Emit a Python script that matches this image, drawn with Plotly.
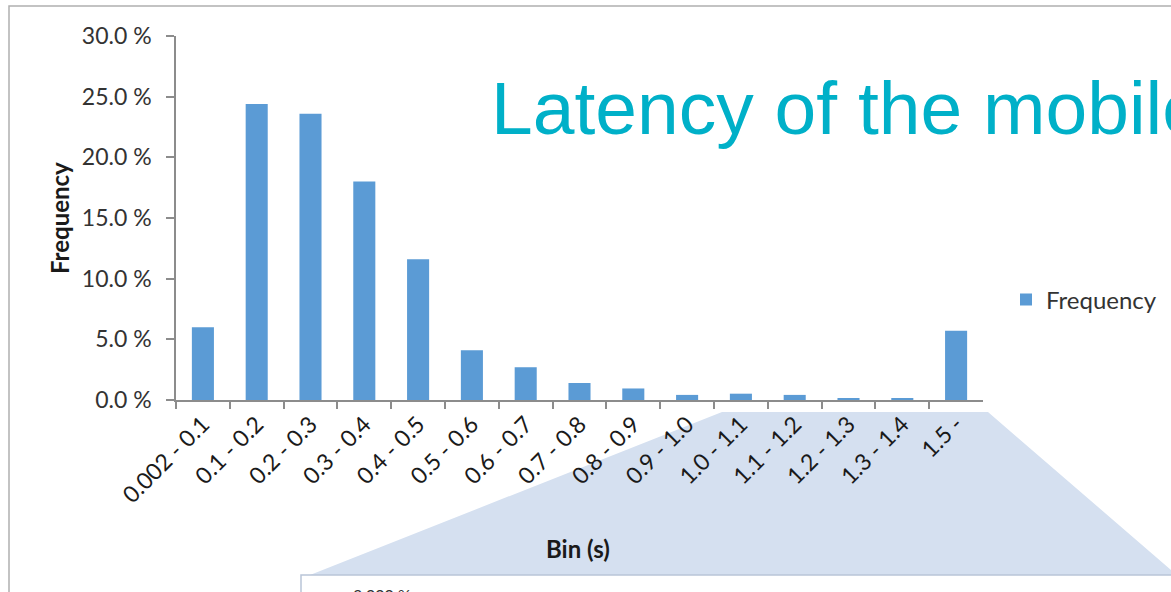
import plotly.graph_objects as go

W, H = 1171, 592
OFF = 0  # page body margin removed via post_script

bins = ["0.002 - 0.1", "0.1 - 0.2", "0.2 - 0.3", "0.3 - 0.4", "0.4 - 0.5",
        "0.5 - 0.6", "0.6 - 0.7", "0.7 - 0.8", "0.8 - 0.9", "0.9 - 1.0",
        "1.0 - 1.1", "1.1 - 1.2", "1.2 - 1.3", "1.3 - 1.4", "1.5 -"]
frequency = [6.0, 24.4, 23.6, 18.0, 11.6, 4.1, 2.7, 1.4, 0.95, 0.42,
             0.52, 0.42, 0.1, 0.1, 5.7]
y_ticks = [0, 5, 10, 15, 20, 25, 30]
y_tick_labels = ["0.0 %", "5.0 %", "10.0 %", "15.0 %", "20.0 %", "25.0 %", "30.0 %"]

def px(x):
    return (x - OFF) / W

def py(y):
    return 1 - (y - OFF) / H

FONT = "Lato"
GRAY = "#8c8c8c"

fig = go.Figure()
fig.add_trace(go.Bar(
    x=bins, y=frequency, name="Frequency",
    marker=dict(color="#5B9BD5", line=dict(width=0)),
    showlegend=True,
))

shapes = [
    # outer slide border
    dict(type="path", xref="paper", yref="paper",
         path=f"M {px(9)},{py(620)} L {px(9)},{py(6)} L {px(1200)},{py(6)}",
         line=dict(color="#b0b0b0", width=1.5), layer="below"),
    # zoom callout trapezoid
    dict(type="path", xref="paper", yref="paper",
         path=(f"M {px(722)},{py(412)} L {px(988)},{py(412)} L {px(1171)},{py(570)} "
               f"L {px(1180)},{py(570)} L {px(1180)},{py(575)} L {px(310)},{py(575)} Z"),
         fillcolor="#D5E0F0", line=dict(width=0), layer="below"),
    # lower chart frame
    dict(type="path", xref="paper", yref="paper",
         path=f"M {px(301)},{py(620)} L {px(301)},{py(575)} L {px(1200)},{py(575)}",
         line=dict(color="#b9c5d8", width=1.5), layer="below"),
]

annotations = [
    dict(text="Latency of the mobile", xref="paper", yref="paper",
         x=px(488.5), y=py(108), xanchor="left", yanchor="middle", showarrow=False,
         font=dict(family="Liberation Sans", size=75, color="#00B0C8")),
    dict(text="<b>Frequency</b>", xref="paper", yref="paper",
         x=px(60), y=py(218), xanchor="center", yanchor="middle", showarrow=False,
         textangle=-90, font=dict(family=FONT, size=24, color="#1a1a1a")),
    dict(text="<b>Bin (s)</b>", xref="paper", yref="paper",
         x=px(578), y=py(548), xanchor="center", yanchor="middle", showarrow=False,
         font=dict(family=FONT, size=24, color="#1a1a1a")),
    dict(text="3.000 %", xref="paper", yref="paper",
         x=px(382), y=py(594), xanchor="center", yanchor="middle", showarrow=False,
         font=dict(family=FONT, size=16, color="#333333")),
]

fig.update_layout(
    width=W, height=H,
    margin=dict(l=0, r=0, t=0, b=0, autoexpand=False),
    paper_bgcolor="white", plot_bgcolor="rgba(0,0,0,0)",
    bargap=0.59,
    font=dict(family=FONT, color="#333333"),
    shapes=shapes,
    annotations=annotations,
    legend=dict(x=px(1006), y=py(300), xanchor="left", yanchor="middle",
                font=dict(family=FONT, size=24, color="#333333"),
                bgcolor="rgba(0,0,0,0)", itemwidth=30),
    xaxis=dict(domain=[px(176), px(983)], type="category",
               showline=True, linecolor=GRAY, linewidth=1.5,
               ticks="outside", ticklen=7, tickcolor=GRAY, tickwidth=1.5,
               tickson="boundaries", tickangle=-45,
               tickfont=dict(family=FONT, size=23, color="#1a1a1a"),
               showgrid=False, zeroline=False, fixedrange=True, automargin=False),
    yaxis=dict(domain=[py(400), py(36)], range=[0, 30],
               tickmode="array", tickvals=y_ticks, ticktext=y_tick_labels,
               showline=True, linecolor=GRAY, linewidth=1.5,
               ticks="outside", ticklen=8, tickcolor=GRAY, tickwidth=1.5,
               ticklabelstandoff=10,
               tickfont=dict(family=FONT, size=23, color="#333333"),
               showgrid=False, zeroline=False, fixedrange=True, automargin=False),
)

fig.write_html(
    "out.html",
    config={"displayModeBar": False},
    post_script="document.body.style.margin='0';document.body.style.overflow='hidden';",
)
